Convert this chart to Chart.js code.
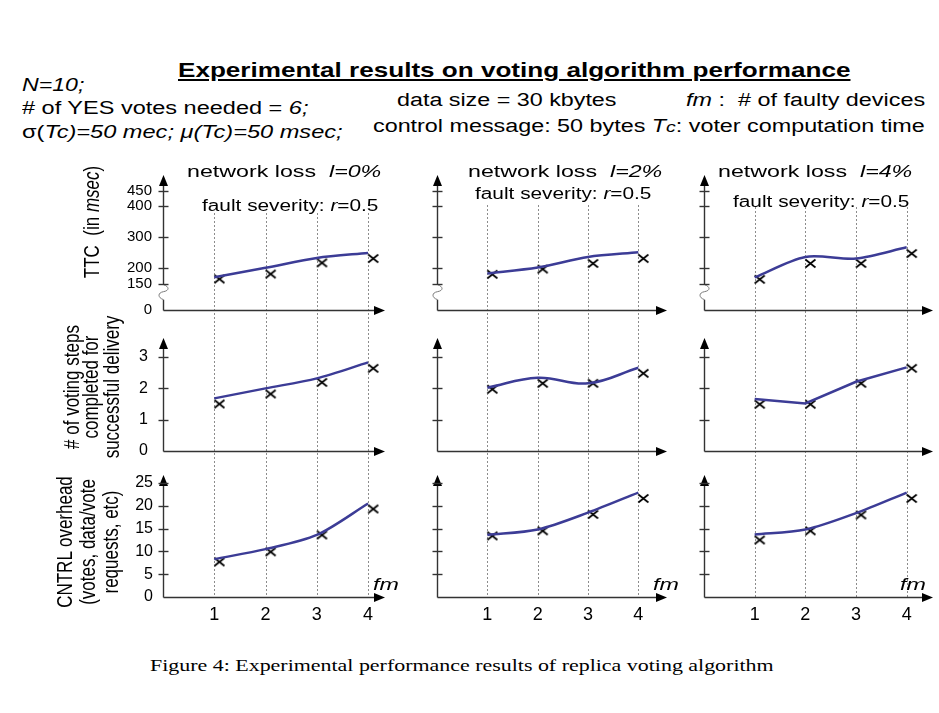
<!DOCTYPE html>
<html>
<head>
<meta charset="utf-8">
<script src="https://cdn.jsdelivr.net/npm/chart.js@4"></script>
<style>
  body { margin: 0; width: 939px; height: 713px; position: relative; overflow: hidden; background: #fff;
         font-family: "Liberation Sans", Arial, sans-serif; color: #000; }
  .t { position: absolute; white-space: nowrap; line-height: 1; transform-origin: 0 0; }
  .vt { position: absolute; white-space: nowrap; text-align: center; }
  .box { position: absolute; top: 160px; }
</style>
</head>
<body>
<div class="box" style="left:0px"><canvas id="c0" width="400" height="480"></canvas></div>
<div class="box" style="left:420px"><canvas id="c1" width="260" height="480"></canvas></div>
<div class="box" style="left:680px"><canvas id="c2" width="259" height="480"></canvas></div>

<script>
// number of faulty devices (x axis)
const fm = [1, 2, 3, 4];
const markerFm = [1.1, 2.1, 3.1, 4.1];
const lossLabels = ['0%', '2%', '4%'];

// TTC in msec, one array per network loss column
const ttcLine = [[171, 201, 233, 249], [183, 202, 236, 251], [170, 236, 231, 267]];
const ttcMeasured = [[165, 181, 217, 231], [180, 197, 215, 231], [164, 215, 215, 247]];
const ttcTicks = [0, 150, 200, 300, 400, 450];

// voting steps completed for successful delivery
const stepsLine = [[1.68, 2.0, 2.32, 2.83], [2.02, 2.34, 2.16, 2.66], [1.66, 1.52, 2.21, 2.67]];
const stepsMeasured = [[1.5, 1.82, 2.19, 2.64], [1.97, 2.16, 2.16, 2.48], [1.49, 1.49, 2.16, 2.64]];
const stepsTicks = [0, 1, 2, 3];

// control overhead
const ctrlLine = [[8.3, 10.5, 13.6, 20.5], [13.6, 14.8, 18.5, 22.9], [13.7, 14.8, 18.4, 22.9]];
const ctrlMeasured = [[7.7, 9.9, 13.6, 19.3], [13.4, 14.5, 18.1, 21.6], [12.5, 14.5, 18.0, 21.6]];
const ctrlTicks = [0, 5, 10, 15, 20, 25];

const lineColor = '#3c3c96';

// the TTC axis is broken between 0 and 150, so "0" sits at 65 on the scale
const rows = [
  { id: 'yTtc', line: ttcLine, measured: ttcMeasured, ticks: ttcTicks, zero: 65, min: -25, max: 500,
    stackWeight: 163, weight: 3, brk: true, font: 15, pad: 11, tension: [0.3, 0.3, 0.3] },
  { id: 'ySteps', line: stepsLine, measured: stepsMeasured, ticks: stepsTicks, zero: 0, min: -0.77, max: 3.61,
    stackWeight: 137, weight: 2, brk: false, font: 16, pad: 15, tension: [0.3, 0.4, 0] },
  { id: 'yCtrl', line: ctrlLine, measured: ctrlMeasured, ticks: ctrlTicks, zero: 0, min: 0, max: 26.75,
    stackWeight: 122, weight: 1, brk: false, font: 16, pad: 10, tension: [0.3, 0.3, 0.3] }
];

// per column layout
const cols = [
  { yWidth: 45, padLeft: 118, padRight: 15, xMax: 4.33, dotTop: 53, labels: true },
  { yWidth: 10, padLeft: 7, padRight: 13, xMax: 4.57, dotTop: 45, labels: false },
  { yWidth: 10, padLeft: 14, padRight: 6, xMax: 4.52, dotTop: 47, labels: false }
];

function makeCross() {
  const c = document.createElement('canvas');
  c.width = 13; c.height = 11;
  const g = c.getContext('2d');
  g.strokeStyle = '#000';
  g.lineWidth = 1.7;
  g.beginPath();
  g.moveTo(1.5, 1.5); g.lineTo(11.5, 9.5);
  g.moveTo(11.5, 1.5); g.lineTo(1.5, 9.5);
  g.stroke();
  return c;
}
const cross = makeCross();

function arrow(ctx, x, y, dir) {
  ctx.beginPath();
  if (dir === 'up') {
    ctx.moveTo(x, y); ctx.lineTo(x - 4.5, y + 11); ctx.lineTo(x + 4.5, y + 11);
  } else {
    ctx.moveTo(x, y); ctx.lineTo(x - 11, y - 4.5); ctx.lineTo(x - 11, y + 4.5);
  }
  ctx.closePath();
  ctx.fill();
}

const axesPlugin = {
  id: 'axes',
  beforeDatasetsDraw(chart, args, opts) {
    const { ctx, chartArea } = chart;
    const xs = chart.scales.x;
    ctx.save();
    ctx.strokeStyle = '#8c8c8c';
    ctx.lineWidth = 1;
    ctx.setLineDash([2, 2]);
    fm.forEach(v => {
      const px = Math.round(xs.getPixelForValue(v)) + 0.5;
      ctx.beginPath();
      ctx.moveTo(px, opts.dotTop);
      ctx.lineTo(px, chartArea.bottom);
      ctx.stroke();
    });
    ctx.restore();
  },
  afterDraw(chart) {
    const { ctx, chartArea } = chart;
    ctx.save();
    ctx.strokeStyle = '#333';
    ctx.fillStyle = '#000';
    ctx.lineWidth = 1.4;
    const x0 = Math.round(chartArea.left) + 0.5;
    rows.forEach(r => {
      const s = chart.scales[r.id];
      const y0 = Math.round(s.getPixelForValue(r.zero)) + 0.5;
      // x axis with arrow
      ctx.beginPath();
      ctx.moveTo(x0, y0); ctx.lineTo(chartArea.right - 8, y0);
      ctx.stroke();
      arrow(ctx, chartArea.right, y0, 'right');
      // y axis with arrow
      if (r.brk) {
        const yb = s.getPixelForValue(150) + 1;
        ctx.beginPath();
        ctx.moveTo(x0, s.top + 8); ctx.lineTo(x0, yb);
        ctx.moveTo(x0, yb + 15); ctx.lineTo(x0, y0);
        ctx.stroke();
        ctx.save();
        ctx.strokeStyle = '#777';
        ctx.lineWidth = 1;
        ctx.beginPath();
        ctx.moveTo(x0, yb);
        ctx.bezierCurveTo(x0 + 6, yb + 2, x0 + 6, yb + 6, x0, yb + 7);
        ctx.bezierCurveTo(x0 - 6, yb + 8, x0 - 6, yb + 13, x0, yb + 15);
        ctx.stroke();
        ctx.restore();
      } else {
        ctx.beginPath();
        ctx.moveTo(x0, s.top + 8); ctx.lineTo(x0, y0);
        ctx.stroke();
      }
      arrow(ctx, x0, s.top, 'up');
      // tick marks crossing the axis
      r.ticks.filter(v => v !== 0).forEach(v => {
        const py = Math.round(s.getPixelForValue(v)) + 0.5;
        ctx.beginPath();
        ctx.moveTo(x0 - 5, py); ctx.lineTo(x0 + 5, py);
        ctx.stroke();
      });
    });
    ctx.restore();
  }
};

cols.forEach((col, c) => {
  const datasets = [];
  const scales = {
    x: {
      type: 'linear', position: 'bottom', min: 0, max: col.xMax,
      afterBuildTicks: s => { s.ticks = fm.map(v => ({ value: v })); },
      afterFit: s => { s.height = 30; s.paddingLeft = 0; s.paddingRight = 0; },
      grid: { display: false, drawTicks: false },
      border: { display: false },
      ticks: { display: true, color: '#000', padding: 7, autoSkip: false, maxRotation: 0,
               font: { family: 'Liberation Sans', size: 18 } }
    }
  };
  rows.forEach(r => {
    datasets.push({
      data: fm.map((x, i) => ({ x: x, y: r.line[c][i] })),
      yAxisID: r.id,
      borderColor: lineColor,
      borderWidth: 2.5,
      pointRadius: 0,
      tension: r.tension[c],
      fill: false
    });
    datasets.push({
      data: markerFm.map((x, i) => ({ x: x, y: r.measured[c][i] })),
      yAxisID: r.id,
      showLine: false,
      pointStyle: cross,
      pointRadius: 6,
      borderWidth: 0
    });
    scales[r.id] = {
      type: 'linear', position: 'left', stack: 'panels', stackWeight: r.stackWeight, weight: r.weight,
      min: r.min, max: r.max,
      afterBuildTicks: s => { s.ticks = r.ticks.map(v => ({ value: v === 0 ? r.zero : v })); },
      afterFit: s => { s.width = col.yWidth; s.paddingTop = 0; s.paddingBottom = 0; },
      grid: { display: false, drawTicks: false },
      border: { display: false },
      ticks: {
        display: col.labels, color: '#000', padding: r.pad, autoSkip: false,
        font: { family: 'Liberation Sans', size: r.font },
        callback: v => (v === r.zero ? '0' : String(v))
      }
    };
  });

  new Chart(document.getElementById('c' + c), {
    type: 'line',
    data: { datasets: datasets },
    options: {
      responsive: false,
      animation: false,
      events: [],
      layout: { padding: { left: col.padLeft, right: col.padRight, top: 15, bottom: 13 } },
      scales: scales,
      plugins: {
        legend: { display: false },
        tooltip: { enabled: false },
        axes: { dotTop: col.dotTop }
      }
    },
    plugins: [axesPlugin]
  });
});

// text around the panels: stretched horizontally like the original figure
const texts = [
  { html: 'Experimental results on voting algorithm performance', x: 178, base: 77, w: 672, size: 21, bold: true, ul: true },
  { html: '<i>N=10;</i>', x: 22, base: 91, w: 63, size: 18 },
  { html: '# of YES votes needed = <i>6;</i>', x: 22, base: 114, w: 286, size: 18 },
  { html: '&sigma;(<i>Tc)=50 mec;</i> <i>&mu;(Tc)=50 msec;</i>', x: 22, base: 138, w: 321, size: 18 },
  { html: 'data size = 30 kbytes', x: 397, base: 106, w: 220, size: 18 },
  { html: '<i>fm</i> :&nbsp; # of faulty devices', x: 686, base: 106, w: 239, size: 18 },
  { html: 'control message: 50 bytes <i>T<small>c</small></i>: voter computation time', x: 373, base: 132, w: 552, size: 18 },
  { html: 'Figure 4: Experimental performance results of replica voting algorithm', x: 150, base: 671, w: 623, size: 17, serif: true }
];
const panelX = [187, 468, 718];
const faultX = [202, 475, 733];
const faultBase = [212, 200, 208];
const fmX = [373, 653, 900];
lossLabels.forEach((l, c) => {
  texts.push({ html: 'network loss&nbsp; <i>l=' + l + '</i>', x: panelX[c], base: 177, w: 194, size: 17 });
  texts.push({ html: 'fault severity: <i>r</i>=0.5', x: faultX[c], base: faultBase[c], w: 177, size: 16 });
  texts.push({ html: '<i>fm</i>', x: fmX[c], base: 590, w: 26, size: 17 });
});

texts.forEach(t => {
  const el = document.createElement('div');
  el.className = 't';
  el.innerHTML = t.html;
  el.style.fontSize = t.size + 'px';
  if (t.bold) el.style.fontWeight = 'bold';
  if (t.ul) el.style.textDecoration = 'underline';
  if (t.serif) el.style.fontFamily = '"Liberation Serif", serif';
  el.style.left = t.x + 'px';
  el.style.top = (t.base - 0.85 * t.size) + 'px';
  document.body.appendChild(el);
  const sx = t.w / el.offsetWidth;
  el.style.transform = 'scaleX(' + sx.toFixed(3) + ')';
});

// rotated axis titles
const titles = [
  { html: 'TTC&nbsp; (in <i>msec</i>)', cx: 92, cy: 222, spacing: 20 },
  { html: '# of voting steps<br>completed for<br>successful delivery', cx: 92, cy: 387, spacing: 20 },
  { html: 'CNTRL overhead<br>(votes, data/vote<br>requests, etc)', cx: 88, cy: 542, spacing: 22.5 }
];
titles.forEach(t => {
  const el = document.createElement('div');
  el.className = 'vt';
  el.innerHTML = t.html;
  el.style.fontSize = '17px';
  el.style.lineHeight = (t.spacing / 1.3).toFixed(2) + 'px';
  el.style.left = t.cx + 'px';
  el.style.top = t.cy + 'px';
  el.style.transform = 'translate(-50%, -50%) rotate(-90deg) scaleY(1.3)';
  document.body.appendChild(el);
});
</script>
</body>
</html>
